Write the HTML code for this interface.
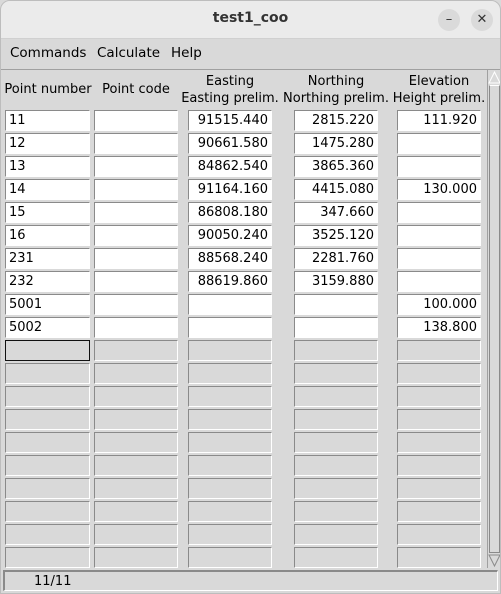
<!DOCTYPE html>
<html><head><meta charset="utf-8">
<style>
html,body{margin:0;padding:0;width:501px;height:594px;overflow:hidden;background:#d9d9d9;font-family:"DejaVu Sans","Liberation Sans",sans-serif;}
#win{position:absolute;left:0;top:0;width:499px;height:592px;border:1px solid #bdbdbd;border-radius:10px 10px 0 0;overflow:hidden;background:#d9d9d9;}
#title{position:absolute;left:0;top:0;width:499px;height:37px;background:#ebebeb;border-bottom:1px solid #d0d0d0;}
#title span{position:absolute;left:0;width:499px;top:9px;text-align:center;font-weight:bold;font-size:14px;color:#333;}
.wbtn{position:absolute;top:8px;width:22px;height:22px;border-radius:11px;background:#dadada;color:#333;font-size:13px;text-align:center;line-height:22px;}
#menu{position:absolute;left:0;top:38px;width:499px;height:30px;border-bottom:1px solid #a0a0a0;font-size:13.5px;}
#menu span{position:absolute;top:6px;color:#000;}
.hdr{position:absolute;font-size:13px;text-align:center;color:#000;line-height:17px;white-space:nowrap;}
.ent{position:absolute;box-sizing:border-box;border-top:1px solid #8a8a8a;border-left:1px solid #8a8a8a;border-bottom:1px solid #fff;border-right:1px solid #fff;background:#d9d9d9;font-size:13px;line-height:19px;padding:0 3px;white-space:nowrap;}
.ent.w{background:#fff;}
.ent.r{text-align:right;}
#sb{position:absolute;left:486px;top:69px;width:13px;height:498px;background:#d9d9d9;border-left:1px solid #a0a0a0;}
#status{position:absolute;left:2px;top:569px;width:495px;height:21px;border-top:2px solid #8a8a8a;border-left:2px solid #8a8a8a;border-bottom:1px solid #fff;border-right:1px solid #fff;box-sizing:border-box;font-size:13px;}
</style></head><body>
<div id="win">
 <div id="title"><span>test1_coo</span>
  <div class="wbtn" style="left:437px">–</div>
  <div class="wbtn" style="left:470px">✕</div>
 </div>
 <div id="menu">
  <span style="left:9px">Commands</span>
  <span style="left:96px">Calculate</span>
  <span style="left:170px">Help</span>
 </div>
 <div class="hdr" style="left:0px;width:94px;top:80px">Point number</div>
 <div class="hdr" style="left:92px;width:86px;top:80px">Point code</div>
 <div class="hdr" style="left:174px;width:110px;top:72px">Easting<br>Easting prelim.</div>
 <div class="hdr" style="left:280px;width:110px;top:72px">Northing<br>Northing prelim.</div>
 <div class="hdr" style="left:383px;width:110px;top:72px">Elevation<br>Height prelim.</div>
 <div id="rows"></div>
 <div id="sb">
  <svg width="13" height="498" style="position:absolute;left:0;top:0">
   <polygon points="1,13 6.5,2 12,13" fill="#d9d9d9" stroke="#fff" stroke-width="1"/>
   <rect x="1.5" y="15.5" width="10" height="467" fill="#d9d9d9" stroke="#8a8a8a"/>
   <line x1="1.5" y1="15.5" x2="11.5" y2="15.5" stroke="#fff"/>
   <polygon points="1,485 6.5,496 12,485" fill="#d9d9d9" stroke="#8a8a8a" stroke-width="1"/>
  </svg>
 </div>
 <div id="status"><span style="position:absolute;left:29px;top:2px">11/11</span></div>
</div>
<script>
var pointNumbers=["11","12","13","14","15","16","231","232","5001","5002"];
var eastings=["91515.440","90661.580","84862.540","91164.160","86808.180","90050.240","88568.240","88619.860","",""];
var northings=["2815.220","1475.280","3865.360","4415.080","347.660","3525.120","2281.760","3159.880","",""];
var elevations=["111.920","","","130.000","","","","","100.000","138.800"];
var colX=[4,93,187,293,396], colW=[85,84,84,84,84];
var colNames=["point-number","point-code","easting","northing","elevation"];
var rows=document.getElementById('rows');
for(var i=0;i<20;i++){
 var y=109+i*23;
 for(var c=0;c<5;c++){
  var d=document.createElement('div');
  var filled=i<pointNumbers.length;
  d.className='ent'+(filled?' w':'')+(c>=2?' r':'');
  d.style.left=colX[c]+'px';d.style.top=y+'px';d.style.width=colW[c]+'px';d.style.height='21px';
  if(filled){
   var v=[pointNumbers[i],"",eastings[i],northings[i],elevations[i]][c];
   d.textContent=v;
  }
  if(i==pointNumbers.length&&c==0){d.style.border='1px solid #111';}
  
  
  rows.appendChild(d);
 }
}
</script>
</body></html>
